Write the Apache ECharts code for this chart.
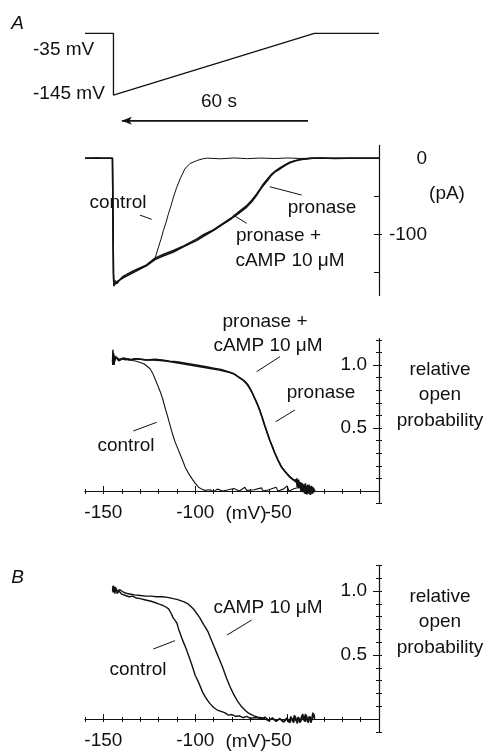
<!DOCTYPE html>
<html>
<head>
<meta charset="utf-8">
<script src="https://cdn.jsdelivr.net/npm/echarts@6/dist/echarts.min.js"></script>
<style>
  html, body { margin: 0; padding: 0; background: #fff; }
  #main { width: 488px; height: 752px; }
</style>
</head>
<body>
<div id="main"></div>
<script>
// ============================================================
// Data
// ============================================================

// voltage protocol (time s, mV)
const protocolTime = [-8.5, 0, 0, 60, 79.3];
const protocolVolt = [-35, -35, -145, -35, -35];
const arrowTime = [58.1, 2.5];
const arrowVolt = -191;

// membrane current during the ramp (time s, pA)
const currControl = [[-8.5,0],[-6,0.4],[-5.5,-0.6],[-5,0.8],[-3,0],[-0.3,0],[0,-150],[0.1,-168],[0.5,-160],[1,-165],[2,-158],[2.9,-157],[4,-152],[5.9,-150],[8,-145],[9.9,-141],[12.4,-132],[13.4,-117],[14.2,-106],[14.9,-95],[15.7,-84],[16.4,-73],[17.2,-62],[17.9,-51],[18.9,-38],[19.9,-27],[21.3,-14],[22.8,-7],[24.8,-3],[26.8,-0.5],[28,0.3],[32,-0.6],[36,0.5],[40,-0.4],[44,0.4],[48,-0.3],[52,0.5],[56,-0.2],[60,0.3],[64,0],[79.3,0]];
const currPronase = [[-8.5,0],[-0.3,0],[0,-150],[0.1,-167],[1,-162],[2.9,-157],[5.9,-150],[9.9,-141],[12.4,-133],[15,-128],[17.9,-123],[21,-116],[24.8,-108],[27,-102],[29.8,-95],[32.5,-87],[35.3,-79],[37.5,-72],[39.8,-64],[41.3,-57],[42.7,-49],[43.7,-42],[44.7,-36],[46,-29],[47.2,-22],[48.5,-17],[49.7,-14],[51.2,-9.5],[52.7,-6],[54.2,-3.5],[55.7,-2],[57.5,-0.8],[59.6,0],[62,0.4],[66,-0.3],[70,0.2],[79.3,0]];
const currPronaseCamp = [[-8.5,0],[-0.3,0],[0,-152],[0.1,-165],[1,-164],[2.9,-155],[5.9,-148],[9.9,-140],[12.4,-131],[15,-126],[17.9,-121],[21,-115],[24.8,-106],[27,-100],[29.8,-94],[32.5,-86],[35.3,-78],[37.5,-70],[39.8,-62],[41.3,-55],[42.7,-47],[43.7,-41],[44.7,-34],[46,-27],[47.2,-21],[48.5,-16],[49.7,-12.5],[51.2,-8.5],[52.7,-5],[54.2,-3],[55.7,-1.5],[57.5,-0.5],[59,0],[79.3,0]];

// relative open probability, panel A (mV, Po)
const poAControl = [[-145,1.0],[-144.8,1.1],[-144.6,1.02],[-144.3,1.08],[-144,1.03],[-143,1.06],[-141.5,1.03],[-140,1.05],[-138,1.04],[-136,1.05],[-134,1.035],[-132,1.03],[-130,1.02],[-128,1.01],[-126.2,0.99],[-124.6,0.97],[-123.2,0.935],[-121.9,0.89],[-120.5,0.84],[-119.1,0.79],[-117.7,0.73],[-116.4,0.66],[-115,0.59],[-113.7,0.52],[-112.3,0.45],[-111,0.39],[-109.6,0.34],[-108.2,0.29],[-106.8,0.24],[-105.5,0.19],[-103.7,0.14],[-101.9,0.10],[-100,0.06],[-98.2,0.03],[-96.5,0.015],[-95,0.005],[-92,0.01],[-90,-0.005],[-88,0.015],[-85,0],[-82,0.01],[-79,0.02],[-76,0],[-73,0.03],[-72,0.005],[-68,0.01],[-64,0.025],[-63,0],[-60,0.01],[-56,0.03],[-55,0],[-52,0.015],[-50,0.04],[-49,0],[-46,0.02],[-43,0.03],[-40,-0.01],[-38,0.03],[-35,0]];
const poAPronase = [[-145,1.02],[-144.8,1.12],[-144.6,1.0],[-144.4,1.09],[-144.1,1.03],[-143,1.06],[-141,1.04],[-139,1.05],[-136,1.04],[-133,1.05],[-130,1.045],[-126,1.04],[-122,1.045],[-118,1.04],[-114,1.03],[-110,1.025],[-106,1.015],[-102,1.005],[-98,0.995],[-94,0.985],[-90,0.975],[-86,0.965],[-83,0.95],[-80,0.935],[-78.5,0.925],[-77,0.91],[-75.5,0.895],[-74,0.88],[-73,0.865],[-72,0.85],[-71.2,0.835],[-70.4,0.815],[-69,0.78],[-67.6,0.735],[-66.2,0.69],[-64.9,0.64],[-63.5,0.58],[-62.2,0.52],[-60.8,0.46],[-59.4,0.40],[-58,0.35],[-56.7,0.30],[-55,0.245],[-53.1,0.19],[-51,0.15],[-48.5,0.11],[-46.5,0.085],[-45,0.09],[-44.5,0.03],[-44,0.08],[-43.5,0.02],[-43,0.07],[-42.5,0.0],[-42,0.06],[-41.5,-0.01],[-41,0.05],[-40.5,-0.02],[-40,0.06],[-39.5,-0.01],[-39,0.04],[-38.5,-0.02],[-38,0.05],[-37.5,-0.03],[-37,0.04],[-36.5,-0.02],[-36,0.03],[-35.5,-0.01],[-35,0.01]];
const poACamp = [[-145,1.03],[-144.7,1.06],[-144.2,1.0],[-143.5,1.07],[-142,1.04],[-139,1.055],[-135,1.04],[-131,1.05],[-127,1.04],[-123,1.04],[-119,1.035],[-115,1.03],[-111,1.02],[-107,1.01],[-103,1.0],[-99,0.99],[-95,0.98],[-91,0.97],[-87,0.96],[-84,0.95],[-81,0.94],[-79,0.93],[-77.5,0.915],[-76,0.90],[-74.5,0.885],[-73,0.87],[-71.5,0.845],[-70.4,0.82],[-69.2,0.785],[-67.8,0.74],[-66.4,0.695],[-65,0.645],[-63.6,0.585],[-62.3,0.525],[-60.9,0.465],[-59.5,0.405],[-58.1,0.355],[-56.8,0.305],[-55.1,0.25],[-53.2,0.195],[-51.1,0.155],[-48.6,0.115],[-46.6,0.09],[-45.2,0.07],[-44.7,0.1],[-44.2,0.04],[-43.7,0.09],[-43.2,0.03],[-42.7,0.07],[-42.2,0.01],[-41.7,0.06],[-41.2,0.0],[-40.7,0.05],[-40.2,-0.02],[-39.7,0.04],[-39.2,-0.03],[-38.7,0.05],[-38.2,-0.02],[-37.7,0.03],[-37.2,-0.03],[-36.7,0.04],[-36.2,-0.02],[-35.5,0.02],[-35,0]];

// relative open probability, panel B (mV, Po)
const poBControl = [[-145,1.0],[-144.8,1.04],[-144.5,0.99],[-144.2,1.03],[-143.8,0.98],[-143.3,1.02],[-142.5,0.98],[-141.5,1.0],[-140,0.975],[-138,0.965],[-136,0.955],[-134,0.96],[-132,0.945],[-130,0.94],[-127,0.93],[-124,0.92],[-122,0.91],[-120,0.90],[-118,0.89],[-116,0.875],[-114.5,0.86],[-113.3,0.83],[-112,0.79],[-111,0.77],[-110,0.75],[-109,0.70],[-108,0.66],[-107,0.62],[-106,0.585],[-105,0.55],[-104,0.51],[-103,0.47],[-102,0.43],[-101,0.385],[-100,0.34],[-99,0.31],[-98,0.28],[-97,0.245],[-96,0.21],[-95,0.185],[-94,0.16],[-93,0.14],[-92,0.12],[-91,0.105],[-90,0.09],[-89,0.085],[-88,0.07],[-87,0.065],[-86,0.06],[-85,0.045],[-84,0.05],[-82,0.03],[-80,0.035],[-78,0.02],[-76,0.025],[-74,0.01],[-72,0.02],[-70,0.005],[-68,0.01],[-66,0.01],[-64,0.0],[-62,0.015],[-60,-0.01],[-58,0.005],[-56,-0.015],[-54,0.0],[-52,-0.02],[-50,0.01],[-49,-0.025],[-48,0.02],[-47,-0.02],[-46,0.03],[-45,-0.02],[-44,0.015],[-43,-0.03],[-42,0.03],[-41,-0.01],[-40,0.04],[-39,-0.02],[-38,0.02],[-37,-0.03],[-36,0.05],[-35,0.0]];
const poBCamp = [[-145,1.02],[-144.7,0.99],[-144.4,1.04],[-144,1.0],[-143.5,1.03],[-142.5,1.0],[-141,1.01],[-139,0.99],[-137,0.98],[-135,0.975],[-133,0.97],[-130,0.965],[-127,0.96],[-124,0.96],[-121,0.955],[-118,0.955],[-115,0.95],[-112,0.94],[-110,0.935],[-108,0.925],[-106,0.915],[-104,0.90],[-102.5,0.88],[-101,0.86],[-100,0.84],[-98.7,0.815],[-97.5,0.79],[-96.5,0.765],[-95.5,0.74],[-94.2,0.71],[-93,0.68],[-92,0.645],[-91,0.61],[-90,0.575],[-89,0.54],[-88,0.505],[-87,0.47],[-86,0.435],[-85,0.40],[-84,0.36],[-83,0.32],[-82,0.285],[-81,0.25],[-80,0.22],[-79,0.19],[-78,0.165],[-77,0.14],[-76,0.12],[-75,0.10],[-74,0.085],[-73,0.07],[-72,0.055],[-71,0.045],[-70,0.035],[-68,0.025],[-66,0.015],[-64,0.01],[-62,0.0],[-60,-0.015],[-58,0.01],[-56,-0.02],[-54,0.005],[-52,-0.025],[-50,0.0],[-48.5,-0.03],[-47.5,0.01],[-46.5,-0.03],[-45.5,0.02],[-44.5,-0.035],[-43.5,0.01],[-42.5,-0.02],[-41.5,0.04],[-40.5,-0.02],[-39.5,0.03],[-38.5,-0.03],[-37.5,0.02],[-36.5,-0.01],[-35.5,0.04],[-35,0.01]];

// leader lines, in the axes' own units
const leadCurrControl = [[7.9,-74.5],[11.4,-80.1]];
const leadCurrPronase = [[46.7,-37.3],[56.2,-48.2]];
const leadCurrCamp = [[35.8,-74.5],[39.8,-85.4]];
const leadPoACamp = [[-53.9,1.066],[-66.6,0.947]];
const leadPoAPronase = [[-45.7,0.643],[-56.2,0.55]];
const leadPoAControl = [[-121,0.545],[-133.7,0.476]];
const leadPoBControl = [[-111,0.612],[-122.8,0.547]];
const leadPoBCamp = [[-69.3,0.773],[-82.7,0.656]];

// ticks and tick labels
const mvTicks = [-160,-150,-140,-130,-120,-110,-100,-90,-80,-70,-60,-50,-40,-30,-20,-10];
const mvMajorTicks = [-150,-100,-50];
const mvLabels = [-150,-100,-50];
const paTicks = [-50,-100,-150];
const paMajorTicks = [-100];
const paLabels = [0,-100];
const poTicks = [-0.1,0.1,0.2,0.3,0.4,0.5,0.6,0.7,0.8,0.9,1.0,1.1,1.2];
const poMajorTicks = [0.5,1.0];
const poLabels = [0.5,1.0];

// ============================================================
// Chart
// ============================================================

const INK = '#111';
const FONT = '"Liberation Sans", Arial, sans-serif';
const chart = echarts.init(document.getElementById('main'));

const GRID_LEFT = 85, GRID_W = 294;

function hiddenAxis(gridIndex, min, max) {
    return { type: 'value', gridIndex, min, max, show: false };
}

// mV axis along the bottom (= zero line) of an open-probability data grid
function mvAxes(gridIndex) {
    const base = {
        type: 'value', gridIndex, min: -160, max: 0, position: 'bottom',
        splitLine: { show: false },
        axisLine: { show: false, onZero: false }
    };
    return [
        Object.assign({}, base, {
            axisLine: { show: true, onZero: false, lineStyle: { color: INK, width: 1.2 } },
            axisTick: { show: true, length: 3, customValues: mvTicks, lineStyle: { color: INK } },
            axisLabel: {
                show: true, customValues: mvLabels, margin: 12, color: INK, fontSize: 19, fontFamily: FONT,
                formatter: v => v === -50 ? '{s|-50}' : String(v),
                rich: { s: { fontSize: 19, fontFamily: FONT, color: INK, padding: [0, 18, 0, 0] } }
            }
        }),
        Object.assign({}, base, {
            axisTick: { show: true, inside: true, length: 2, customValues: mvTicks, lineStyle: { color: INK } },
            axisLabel: { show: false }
        }),
        Object.assign({}, base, {
            axisTick: { show: true, inside: true, length: 5, customValues: mvMajorTicks, lineStyle: { color: INK } },
            axisLabel: { show: false }
        })
    ];
}

// Po axis, drawn in its own (slightly taller) grid so it reaches below zero
function poAxes(gridIndex, max) {
    const base = {
        type: 'value', gridIndex, min: -0.1, max, position: 'right',
        splitLine: { show: false },
        axisLine: { show: false, onZero: false }
    };
    return [
        Object.assign({}, base, {
            axisLine: { show: true, onZero: false, lineStyle: { color: INK, width: 1.2 } },
            axisTick: { show: true, length: 3, customValues: poTicks, lineStyle: { color: INK } },
            axisLabel: {
                show: true, inside: true, margin: 12, customValues: poLabels,
                color: INK, fontSize: 19, fontFamily: FONT,
                formatter: v => v.toFixed(1)
            }
        }),
        Object.assign({}, base, {
            axisTick: { show: true, inside: true, length: 3, customValues: poTicks, lineStyle: { color: INK } },
            axisLabel: { show: false }
        }),
        Object.assign({}, base, {
            axisTick: { show: true, inside: true, length: 6, customValues: poMajorTicks, lineStyle: { color: INK } },
            axisLabel: { show: false }
        })
    ];
}

function trace(data, xi, yi, width) {
    return {
        type: 'line', data, xAxisIndex: xi, yAxisIndex: yi,
        symbol: 'none', silent: true, animation: false, clip: false,
        lineStyle: { color: INK, width: width }
    };
}

function text(t, x, y, extra) {
    return {
        type: 'text', silent: true,
        style: Object.assign({
            text: t, x, y, fill: INK, font: '19px ' + FONT,
            textAlign: 'center', textVerticalAlign: 'middle'
        }, extra || {})
    };
}

// grids: 0 protocol, 1 current, 2 Po A data, 3 Po A axis, 4 Po B data, 5 Po B axis
const xAxes = [
    hiddenAxis(0, -8.5, 79.3),      // 0
    hiddenAxis(1, -8.5, 79.3),      // 1
    ...mvAxes(2),                   // 2,3,4
    hiddenAxis(3, -160, 0),         // 5
    ...mvAxes(4),                   // 6,7,8
    hiddenAxis(5, -160, 0)          // 9
];

const yAxes = [
    hiddenAxis(0, -200, -35),       // 0
    {                               // 1
        type: 'value', gridIndex: 1, min: -180, max: 17, position: 'right',
        splitLine: { show: false },
        axisLine: { show: true, onZero: false, lineStyle: { color: INK, width: 1.2 } },
        axisTick: { show: true, inside: true, length: 5, customValues: paTicks, lineStyle: { color: INK } },
        axisLabel: {
            show: true, customValues: paLabels, align: 'right', margin: 48,
            color: INK, fontSize: 19, fontFamily: FONT
        }
    },
    {                               // 2
        type: 'value', gridIndex: 1, min: -180, max: 17, position: 'right',
        splitLine: { show: false },
        axisLine: { show: false, onZero: false },
        axisTick: { show: true, length: 3, customValues: paMajorTicks, lineStyle: { color: INK } },
        axisLabel: { show: false }
    },
    hiddenAxis(2, 0, 1.21),         // 3
    ...poAxes(3, 1.21),             // 4,5,6
    hiddenAxis(4, 0, 1.2),          // 7
    ...poAxes(5, 1.2)               // 8,9,10
];

const arrowData = [
    [arrowTime[0], arrowVolt],
    { value: [arrowTime[1], arrowVolt], symbol: 'arrow', symbolSize: [6, 10], symbolRotate: 90 }
];

const option = {
    backgroundColor: '#fff',
    animation: false,
    grid: [
        { left: GRID_LEFT, top: 33.3, width: GRID_W, height: 92.6 },
        { left: GRID_LEFT, top: 145.4, width: GRID_W, height: 150 },
        { left: GRID_LEFT, top: 338.5, width: GRID_W, height: 152.5 },
        { left: GRID_LEFT, top: 338.5, width: GRID_W, height: 165.1 },
        { left: GRID_LEFT, top: 565.4, width: GRID_W, height: 153.6 },
        { left: GRID_LEFT, top: 565.4, width: GRID_W, height: 166.4 }
    ],
    xAxis: xAxes,
    yAxis: yAxes,
    series: [
        // protocol
        trace(protocolTime.map((t, i) => [t, protocolVolt[i]]), 0, 0, 1.3),
        Object.assign(trace(arrowData, 0, 0, 1.6), { showSymbol: true, itemStyle: { color: INK } }),
        // current
        trace(currControl, 1, 1, 1),
        trace(currPronase, 1, 1, 1.5),
        trace(currPronaseCamp, 1, 1, 1.5),
        trace(leadCurrControl, 1, 1, 1),
        trace(leadCurrPronase, 1, 1, 1),
        trace(leadCurrCamp, 1, 1, 1),
        // Po A (x axis 2, y axis 3)
        trace(poAControl, 2, 3, 1.1),
        trace(poAPronase, 2, 3, 1.5),
        trace(poACamp, 2, 3, 1.5),
        trace(leadPoACamp, 2, 3, 1),
        trace(leadPoAPronase, 2, 3, 1),
        trace(leadPoAControl, 2, 3, 1),
        // Po B (x axis 6, y axis 7)
        trace(poBControl, 6, 7, 1.4),
        trace(poBCamp, 6, 7, 1.4),
        trace(leadPoBControl, 6, 7, 1),
        trace(leadPoBCamp, 6, 7, 1)
    ],
    graphic: [
        text('A', 17.5, 23.5, { font: 'italic 19px ' + FONT }),
        text('B', 17.5, 578, { font: 'italic 19px ' + FONT }),
        text('-35 mV', 33, 50, { textAlign: 'left' }),
        text('-145 mV', 33, 94, { textAlign: 'left' }),
        text('60 s', 219, 102),
        // current panel
        text('control', 118, 203),
        text('pronase', 322, 208),
        text('pronase +', 278.5, 236),
        text('cAMP 10 μM', 290, 261),
        text('(pA)', 447, 194),
        // Po A
        text('pronase +', 265, 322),
        text('cAMP 10 μM', 268, 346),
        text('pronase', 321, 393),
        text('control', 126, 446),
        text('relative\nopen\nprobability', 440, 395, { lineHeight: 25.5 }),
        text('(mV)', 246, 514),
        // Po B
        text('cAMP 10 μM', 268, 608),
        text('control', 138, 670),
        text('relative\nopen\nprobability', 440, 622, { lineHeight: 25.5 }),
        text('(mV)', 246, 741.5)
    ]
};

chart.setOption(option);
</script>
</body>
</html>
